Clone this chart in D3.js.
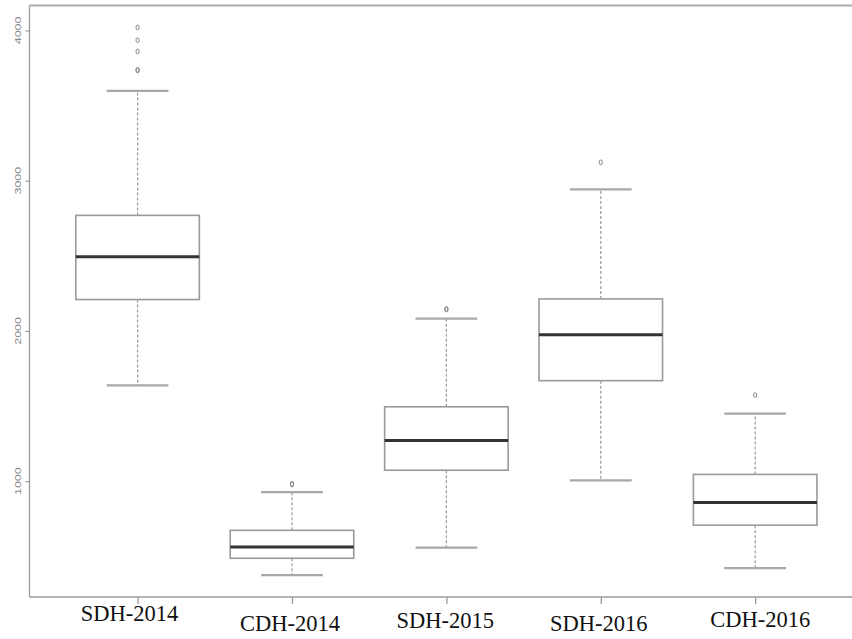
<!DOCTYPE html>
<html>
<head>
<meta charset="utf-8">
<script src="https://cdn.jsdelivr.net/npm/d3@7"></script>
<style>
  html, body { margin: 0; padding: 0; background: #fff; }
  svg { display: block; }
</style>
</head>
<body>
<svg id="chart" width="852" height="639"></svg>
<script>
// Five-number summaries per group, plus points beyond the whiskers
const categories   = ["SDH-2014", "CDH-2014", "SDH-2015", "SDH-2016", "CDH-2016"];
const lowerWhisker = [1638, 375, 558, 1005, 422];
const q1Values     = [2209, 487, 1073, 1669, 707];
const medians      = [2493, 562, 1271, 1975, 858];
const q3Values     = [2769, 673, 1495, 2213, 1045];
const upperWhisker = [3598, 927, 2082, 2942, 1449];
const outliers     = [[4020, 3935, 3860, 3733, 3738], [982, 978], [2142, 2146], [3122], [1573]];
const yTicks       = [1000, 2000, 3000, 4000];

const svg = d3.select("#chart");
const W = 852, H = 639;
const plotLeft = 29.5, plotTop = 5.5, plotBottom = 597;

// category labels were set by hand, each nudged a little (dx, baseline)
const labelNudge = [[-8, 621], [-2, 631], [-1, 628], [-2, 631], [5, 627]];

const boxes = categories.map((c, i) => ({
  name: c, pos: i + 1,
  lo: lowerWhisker[i], q1: q1Values[i], med: medians[i], q3: q3Values[i], hi: upperWhisker[i],
  out: outliers[i], nudge: labelNudge[i]
}));

// Axis ranges extended by 4% on each side of the data
const allVals = boxes.flatMap(b => [b.lo, b.hi, ...b.out]);
const yMin = d3.min(allVals), yMax = d3.max(allVals);
const pad = (yMax - yMin) * 0.04;
const y = d3.scaleLinear().domain([yMin - pad, yMax + pad]).range([plotBottom, plotTop]);

const n = categories.length;
const xPad = n * 0.04;
const x = d3.scaleLinear().domain([0.5 - xPad, n + 0.5 + xPad]).range([plotLeft, plotLeft + 5.4 * 154.4]);
const boxW = x(0.8) - x(0);
const capW = boxW / 2;

const grey = "#9a9a9a";

// Plot frame: top, left and bottom edges
svg.append("line").attr("x1", plotLeft).attr("x2", W).attr("y1", plotTop).attr("y2", plotTop)
  .attr("stroke", "#aaa").attr("stroke-width", 2);
svg.append("line").attr("x1", plotLeft).attr("x2", plotLeft).attr("y1", plotTop).attr("y2", plotBottom)
  .attr("stroke", grey).attr("stroke-width", 1.3);

// Bottom axis
const xAxis = d3.axisBottom(x).tickValues(boxes.map(b => b.pos)).tickSize(7).tickFormat("");
const gx = svg.append("g").attr("transform", `translate(0,${plotBottom})`).call(xAxis);
gx.select(".domain").remove();
gx.selectAll(".tick line").attr("stroke", grey).attr("stroke-width", 1.3);
svg.append("line").attr("x1", plotLeft).attr("x2", W).attr("y1", plotBottom).attr("y2", plotBottom)
  .attr("stroke", grey).attr("stroke-width", 1.5);

svg.append("g").selectAll("text").data(boxes).join("text")
  .attr("x", d => x(d.pos) + d.nudge[0]).attr("y", d => d.nudge[1])
  .attr("text-anchor", "middle")
  .attr("font-family", "'Liberation Serif', 'Times New Roman', serif")
  .attr("font-size", 22.5)
  .attr("fill", "#111")
  .text(d => d.name);

// Left axis with rotated, narrow tick labels
const yAxis = d3.axisLeft(y).tickValues(yTicks).tickSize(4).tickFormat("");
const gy = svg.append("g").attr("transform", `translate(${plotLeft},0)`).call(yAxis);
gy.select(".domain").remove();
gy.selectAll(".tick line").attr("stroke", grey).attr("stroke-width", 1.2);

svg.append("g").selectAll("text").data(yTicks).join("text")
  .attr("transform", d => `translate(20.5,${y(d)}) scale(0.75,1) rotate(-90)`)
  .attr("text-anchor", "middle")
  .attr("font-family", "'Liberation Sans', Arial, sans-serif")
  .attr("font-size", 12.5)
  .attr("fill", "#888")
  .text(d => d);

// Boxes
const g = svg.append("g").selectAll("g").data(boxes).join("g");

// dashed whiskers
g.append("line")
  .attr("x1", d => x(d.pos)).attr("x2", d => x(d.pos))
  .attr("y1", d => y(d.q3)).attr("y2", d => y(d.hi))
  .attr("stroke", grey).attr("stroke-width", 1.2).attr("stroke-dasharray", "3,2");
g.append("line")
  .attr("x1", d => x(d.pos)).attr("x2", d => x(d.pos))
  .attr("y1", d => y(d.q1)).attr("y2", d => y(d.lo))
  .attr("stroke", grey).attr("stroke-width", 1.2).attr("stroke-dasharray", "3,2");

// whisker caps
g.append("line")
  .attr("x1", d => x(d.pos) - capW / 2).attr("x2", d => x(d.pos) + capW / 2)
  .attr("y1", d => y(d.hi)).attr("y2", d => y(d.hi))
  .attr("stroke", "#a8a8a8").attr("stroke-width", 2.2);
g.append("line")
  .attr("x1", d => x(d.pos) - capW / 2).attr("x2", d => x(d.pos) + capW / 2)
  .attr("y1", d => y(d.lo)).attr("y2", d => y(d.lo))
  .attr("stroke", "#a8a8a8").attr("stroke-width", 2.2);

// box body
g.append("rect")
  .attr("x", d => x(d.pos) - boxW / 2).attr("width", boxW)
  .attr("y", d => y(d.q3)).attr("height", d => y(d.q1) - y(d.q3))
  .attr("fill", "#fff").attr("stroke", grey).attr("stroke-width", 1.6);

// median
g.append("line")
  .attr("x1", d => x(d.pos) - boxW / 2).attr("x2", d => x(d.pos) + boxW / 2)
  .attr("y1", d => y(d.med)).attr("y2", d => y(d.med))
  .attr("stroke", "#333").attr("stroke-width", 3);

// outlying points
g.selectAll("ellipse").data(d => d.out.map(v => ({ pos: d.pos, v }))).join("ellipse")
  .attr("cx", d => x(d.pos)).attr("cy", d => y(d.v))
  .attr("rx", 1.6).attr("ry", 2.4)
  .attr("fill", "none").attr("stroke", "#888").attr("stroke-width", 1);
</script>
</body>
</html>
